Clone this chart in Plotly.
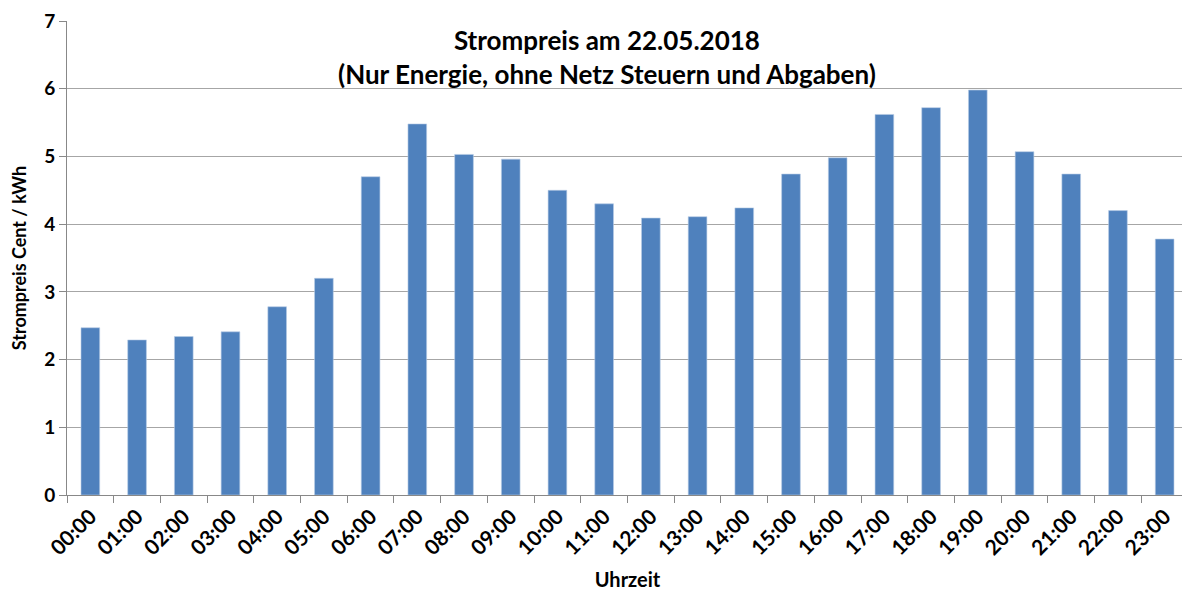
import plotly.graph_objects as go

hours = ["00:00", "01:00", "02:00", "03:00", "04:00", "05:00", "06:00", "07:00",
         "08:00", "09:00", "10:00", "11:00", "12:00", "13:00", "14:00", "15:00",
         "16:00", "17:00", "18:00", "19:00", "20:00", "21:00", "22:00", "23:00"]
prices = [2.47, 2.29, 2.34, 2.41, 2.78, 3.20, 4.70, 5.48, 5.03, 4.96, 4.50, 4.30,
          4.09, 4.11, 4.24, 4.74, 4.98, 5.62, 5.72, 5.98, 5.07, 4.74, 4.20, 3.78]
y_ticks = [0, 1, 2, 3, 4, 5, 6, 7]

font_family = "Lato, 'Open Sans', sans-serif"

fig = go.Figure(go.Bar(
    x=hours, y=prices,
    marker=dict(color="#4F81BD", line=dict(color="#B9CDE5", width=0.6)),
))

fig.update_layout(
    width=1182, height=583,
    margin=dict(l=59, r=2, t=13, b=96),
    paper_bgcolor="white", plot_bgcolor="white",
    bargap=0.6,
    showlegend=False,
    font=dict(family=font_family, color="black", size=17),
    annotations=[dict(
        text="<b>Strompreis am 22.05.2018</b><br><b>(Nur Energie, ohne Netz Steuern und Abgaben)</b>",
        x=0.482, xref="paper", y=1.0, yref="paper", yanchor="top", yshift=-1,
        showarrow=False, font=dict(size=26, family=font_family, color="black"),
        align="center",
    )],
)
fig.update_xaxes(
    type="category",
    automargin=False,
    tickangle=-45,
    tickfont=dict(size=21, family=font_family, color="black", weight="bold"),
    ticks="outside", ticklen=7, tickcolor="#888888",
    tickson="boundaries",
    showline=True, linecolor="#888888", linewidth=1,
    showgrid=False,
    title=dict(text="<b>Uhrzeit</b>", font=dict(size=20, family=font_family), standoff=22),
)
fig.update_yaxes(
    automargin=False,
    ticklabeloverflow="allow",
    range=[0, 7], tickvals=y_ticks,
    tickfont=dict(size=19, family=font_family, color="black", weight="bold"),
    ticks="outside", ticklen=7, tickcolor="#888888",
    showline=True, linecolor="#888888", linewidth=1,
    showgrid=True, gridcolor="#A6A6A6", gridwidth=1,
    zeroline=False,
    title=dict(text="<b>Strompreis Cent / kWh</b>", font=dict(size=18, family=font_family), standoff=16),
)

fig.write_html("out.html")
